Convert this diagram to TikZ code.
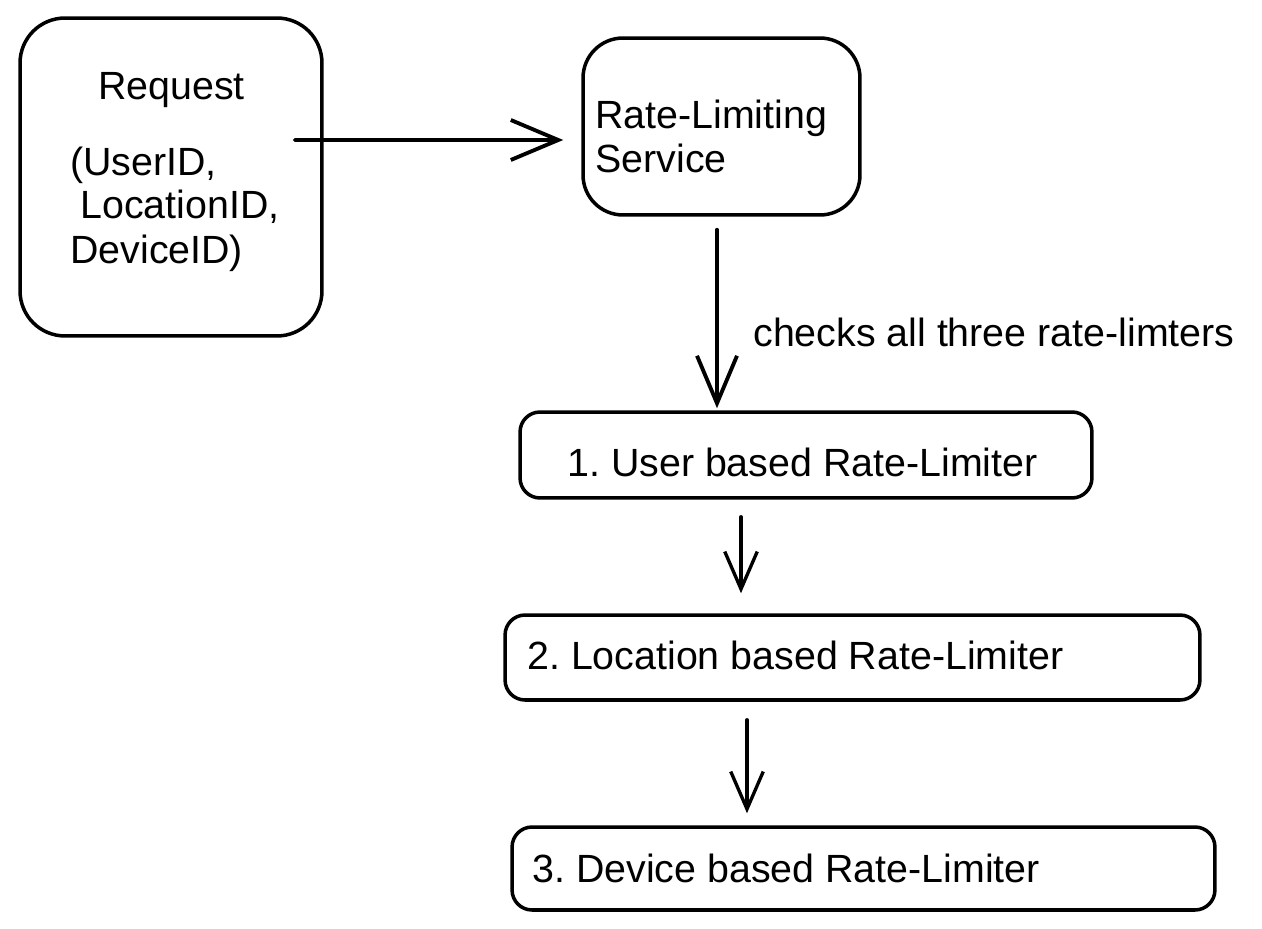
\documentclass[tikz,border=0pt]{standalone}
\usepackage{fontspec}
\setmainfont{Liberation Sans}
\usetikzlibrary{arrows.meta,calc}
\frenchspacing

\begin{document}
\begin{tikzpicture}[x=0.02cm,y=-0.02cm,line cap=round,
	box/.style={draw,line width=2pt,rounded corners=0.8cm},
	txt/.style={anchor=base west,inner sep=0pt,font=\fontsize{22.4pt}{26pt}\selectfont},
	arr/.style={line width=2.2pt,-{Straight Barb[length=0.95cm,width=0.8cm,line width=2.2pt]}},
	arrs/.style={line width=1.9pt,-{Straight Barb[length=0.75cm,width=0.65cm,line width=1.9pt]}}]
	\useasboundingbox (0,0) rectangle (1262,929);

	% draw the boxes
	\node[box,minimum width=6.04cm,minimum height=6.36cm,rounded corners=0.9cm] (request) at (171,177) {};
	\node[box,minimum width=5.54cm,minimum height=3.54cm] (service) at (721.5,126.5) {};
	\node[box,minimum width=11.44cm,minimum height=1.72cm,rounded corners=0.4cm] (user) at (806,455) {};
	\node[box,minimum width=13.9cm,minimum height=1.7cm,rounded corners=0.4cm] (location) at (852.5,657.5) {};
	\node[box,minimum width=14.06cm,minimum height=1.66cm,rounded corners=0.4cm] (device) at (863.5,868.5) {};

	% draw the texts
	\node[txt] (reqtitle) at (98,100) {Request};
	\node[txt] (requser) at (70,176) {(UserID,};
	\node[txt] (reqloc) at (80,219) {LocationID,};
	\node[txt] (reqdev) at (70,264) {DeviceID)};
	\node[txt] (servicea) at (595,129) {Rate-Limiting};
	\node[txt] (serviceb) at (595,173) {Service};
	\node[txt] (check) at (753,347) {checks all three rate-limters};
	\node[txt] (usertext) at (567,477) {1. User based Rate-Limiter};
	\node[txt] (loctext) at (527,669) {2. Location based Rate-Limiter};
	\node[txt] (devtext) at (532,882) {3. Device based Rate-Limiter};

	% draw the arrows
	\draw[arr] ($(request.east)+(-29,-37)$) -- ($(service.west)+(-18,13.5)$);
	\draw[arr] ($(service.south)+(-4.5,13)$) -- ($(user.north)+(-89,-2)$);
	\draw[arrs] ($(user.south)+(-65,17)$) -- ($(location.north)+(-111.5,-20)$);
	\draw[arrs] ($(location.south)+(-105.5,18)$) -- ($(device.north)+(-116.5,-12)$);
\end{tikzpicture}
\end{document}
